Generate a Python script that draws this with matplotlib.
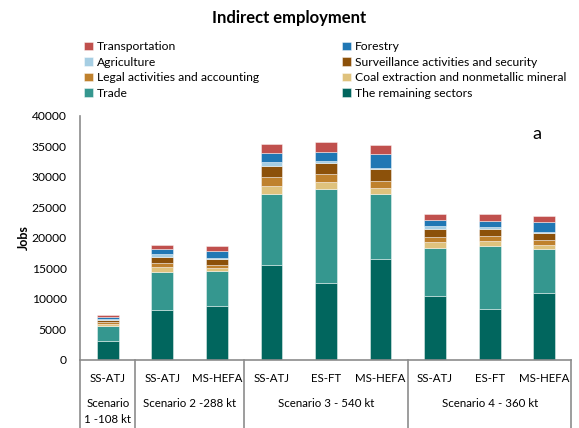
import matplotlib
matplotlib.use("Agg")
import matplotlib.pyplot as plt
import numpy as np

plt.rcParams['font.family'] = ['Lato', 'DejaVu Sans']

pathways = ["SS-ATJ", "SS-ATJ", "MS-HEFA", "SS-ATJ", "ES-FT", "MS-HEFA", "SS-ATJ", "ES-FT", "MS-HEFA"]
scenarios = ["Scenario\n1 -108 kt", "Scenario 2 -288 kt", "Scenario 3 - 540 kt", "Scenario 4 - 360 kt"]
scenario_sizes = [1, 2, 3, 3]

remaining      = [3170, 8250, 8900, 15620, 12680, 16610, 10550, 8420, 11040]
trade          = [2460, 6230, 5680, 11540, 15410, 10660, 7820, 10330, 7210]
coal           = [270, 770, 490, 1410, 1090, 980, 980, 820, 600]
legal          = [270, 710, 490, 1380, 1310, 1090, 820, 770, 820]
surveillance   = [440, 980, 930, 1900, 1850, 1910, 1310, 1200, 1150]
agriculture    = [160, 440, 220, 610, 280, 220, 440, 270, 220]
forestry       = [270, 770, 1150, 1430, 1480, 2240, 980, 1040, 1530]
transportation = [270, 710, 770, 1480, 1690, 1590, 980, 1090, 1090]

series = [
    ("The remaining sectors", remaining, "#01665E"),
    ("Trade", trade, "#35978F"),
    ("Coal extraction and nonmetallic mineral", coal, "#DFC27D"),
    ("Legal activities and accounting", legal, "#BF812D"),
    ("Surveillance activities and security", surveillance, "#8C510A"),
    ("Agriculture", agriculture, "#A6CEE3"),
    ("Forestry", forestry, "#2077B4"),
    ("Transportation", transportation, "#C0504D"),
]

fig = plt.figure(figsize=(5.79, 4.28), dpi=100)
ax = fig.add_axes([0.139, 0.159, 0.848, 0.570])

x = np.arange(len(pathways))
bottom = np.zeros(len(pathways))
handles = {}
for name, vals, col in series:
    b = ax.bar(x, vals, 0.4, bottom=bottom, color=col, edgecolor=(1, 1, 1, 0.5), linewidth=0.6, label=name)
    handles[name] = b
    bottom += np.array(vals)

ax.set_xlim(-0.5, len(pathways) - 0.5)
ax.set_ylim(0, 40000)
ax.set_yticks(np.arange(0, 40001, 5000))
ax.tick_params(axis='y', length=0, labelsize=8.7, pad=10)
ax.set_xticks([])
for s in ["top", "right"]:
    ax.spines[s].set_visible(False)
for s in ["left", "bottom"]:
    ax.spines[s].set_color("#8C8C8C")
    ax.spines[s].set_linewidth(1.2)
ax.set_ylabel("Jobs", fontsize=9, fontweight="bold", labelpad=1)

trans = ax.get_xaxis_transform()
# pathway labels
for xi, p in zip(x, pathways):
    ax.text(xi, -0.074, p, transform=trans, ha="center", va="center", fontsize=8.3)
# scenario separators & labels
edges = [-0.5]
for sz in scenario_sizes:
    edges.append(edges[-1] + sz)
for e in edges:
    ax.plot([e, e], [0, -0.3], transform=trans, color="#8C8C8C", lw=1.2, clip_on=False)
for i, sc in enumerate(scenarios):
    cx = (edges[i] + edges[i + 1]) / 2
    if "\n" in sc:
        l1, l2 = sc.split("\n")
        ax.text(cx, -0.18, l1, transform=trans, ha="center", va="center", fontsize=8.3)
        ax.text(cx, -0.245, l2, transform=trans, ha="center", va="center", fontsize=8.3)
    else:
        ax.text(cx, -0.18, sc, transform=trans, ha="center", va="center", fontsize=8.3)

ax.text(0.93, 0.925, "a", transform=ax.transAxes, fontsize=13, ha="center", va="center")

fig.text(0.5, 0.958, "Indirect employment", ha="center", va="center", fontsize=12, fontweight="bold")

order = ["Transportation", "Agriculture", "Legal activities and accounting", "Trade",
         "Forestry", "Surveillance activities and security", "Coal extraction and nonmetallic mineral",
         "The remaining sectors"]
leg = fig.legend([handles[n] for n in order], order, ncol=2, loc="upper left",
                 bbox_to_anchor=(0.137, 0.915), frameon=False, fontsize=8.7,
                 handlelength=0.75, handleheight=0.75, handletextpad=0.3,
                 columnspacing=6.9, labelspacing=0.37, borderaxespad=0)

fig.savefig("out.png", dpi=100)
